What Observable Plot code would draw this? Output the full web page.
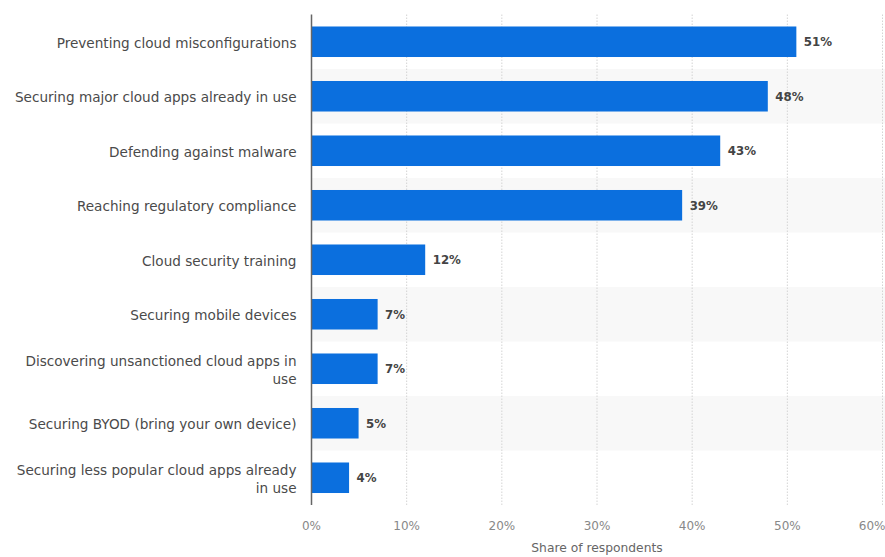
<!DOCTYPE html>
<html>
<head>
<meta charset="utf-8">
<script src="https://cdn.jsdelivr.net/npm/d3@7"></script>
<script src="https://cdn.jsdelivr.net/npm/@observablehq/plot@0.6"></script>
<style>
  html, body { margin: 0; padding: 0; background: #fff; }
  #chart svg { display: block; }
</style>
</head>
<body>
<div id="chart"></div>
<script>
const categories = [
  "Preventing cloud misconfigurations",
  "Securing major cloud apps already in use",
  "Defending against malware",
  "Reaching regulatory compliance",
  "Cloud security training",
  "Securing mobile devices",
  "Discovering unsanctioned cloud apps in use",
  "Securing BYOD (bring your own device)",
  "Securing less popular cloud apps already in use"
];
const labelLines = [
  "Preventing cloud misconfigurations",
  "Securing major cloud apps already in use",
  "Defending against malware",
  "Reaching regulatory compliance",
  "Cloud security training",
  "Securing mobile devices",
  "Discovering unsanctioned cloud apps in\nuse",
  "Securing BYOD (bring your own device)",
  "Securing less popular cloud apps already\nin use"
];
const values = [51, 48, 43, 39, 12, 7, 7, 5, 4];
const xTicks = [0, 10, 20, 30, 40, 50, 60];

const data = categories.map((c, i) => ({category: c, value: values[i], label: labelLines[i], idx: i}));
const shaded = data.filter(d => d.idx % 2 === 1);

const W = 885, H = 557;
const marginTop = 14.5, marginBottom = 52;
const step = (H - marginTop - marginBottom) / categories.length;
const padInner = 0.44;
const bandInset = -step * padInner / 2;
const font = "'DejaVu Sans', Verdana, sans-serif";

const chart = Plot.plot({
  width: W,
  height: H,
  marginLeft: 311,
  marginRight: 3,
  marginTop,
  marginBottom,
  style: {fontFamily: font, fontSize: "12px", color: "#555", background: "#fff"},
  x: {domain: [0, 60], ticks: xTicks, tickFormat: d => d + "%", label: null},
  y: {domain: categories, paddingInner: padInner, paddingOuter: padInner / 2, align: 0.5, round: false, label: null},
  marks: [
    Plot.barX(shaded, {y: "category", x1: 0, x2: 61, fill: "#f8f8f8", insetTop: bandInset, insetBottom: bandInset}),
    Plot.gridX(xTicks.filter(t => t > 0), {stroke: "#d4d4d4", strokeOpacity: 1, strokeDasharray: "1.5,1.5", strokeWidth: 1}),
    Plot.barX(data, {y: "category", x: "value", fill: "#0b6fde"}),
    Plot.text(data, {y: "category", x: "value", text: d => d.value + "%", textAnchor: "start", dx: 7, fill: "#444", fontWeight: "bold", fontSize: 11.8}),
    Plot.axisY({tickSize: 0, tickPadding: 15, tickFormat: (d) => labelLines[categories.indexOf(d)], fill: "#4a4a4a", fontSize: 13.6, lineHeight: 1.3}),
    Plot.ruleX([0], {stroke: "#666", strokeWidth: 1.5}),
    Plot.axisX(xTicks.filter(t => t < 60), {tickSize: 0, tickPadding: 16, tickFormat: d => d + "%", fill: "#888", fontSize: 12, label: null}),
    Plot.axisX([60], {tickSize: 0, tickPadding: 16, tickFormat: d => d + "%", fill: "#888", fontSize: 12, textAnchor: "end", dx: 3, label: null}),
    Plot.text(["Share of respondents"], {frameAnchor: "bottom", x: 30, dy: 46, fill: "#666", fontSize: 12.3})
  ]
});
document.getElementById("chart").appendChild(chart);
</script>
</body>
</html>
